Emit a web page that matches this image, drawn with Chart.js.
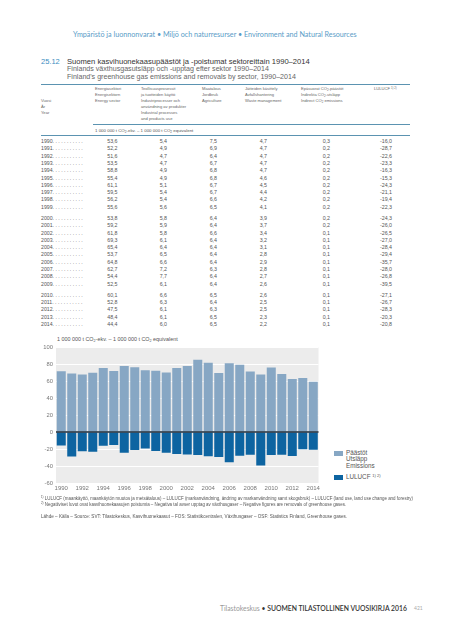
<!DOCTYPE html>
<html>
<head>
<meta charset="utf-8">
<script src="https://cdn.jsdelivr.net/npm/chart.js@4/dist/chart.umd.min.js"></script>
<style>
  html, body { margin: 0; padding: 0; background: #fff; }
  body { width: 450px; height: 640px; position: relative; overflow: hidden; font-family: "Liberation Sans", Arial, sans-serif; color: #444; }
  .t { position: absolute; white-space: nowrap; transform: translateY(-50%); line-height: 1; }
  .rule { position: absolute; height: 1px; background: #5b93b1; }
  sub { font-size: 70%; vertical-align: -0.25em; line-height: 0; }
  sup { font-size: 65%; vertical-align: 0.5em; line-height: 0; }
  #chartBox { position: absolute; left: 20px; top: 340px; width: 302px; height: 155px; }
  .lg { position: absolute; width: 9px; height: 5px; }
</style>
</head>
<body>
<div class="t" style="left:73px;top:35px;font-family:Lato,'Open Sans',sans-serif;font-size:7.2px;color:#5a9cc7;">Ympäristö ja luonnonvarat • Miljö och naturresurser • Environment and Natural Resources</div>

<div class="t" style="left:41px;top:62px;font-size:7.5px;color:#3b8dbf;">25.12</div>
<div class="t" style="left:67px;top:62px;font-size:7.6px;color:#333;">Suomen kasvihuonekaasupäästöt ja -poistumat sektoreittain 1990–2014</div>
<div class="t" style="left:67px;top:70px;font-size:7.1px;color:#666;">Finlands växthusgasutsläpp och -upptag efter sektor 1990–2014</div>
<div class="t" style="left:67px;top:78px;font-size:7.1px;color:#666;">Finland's greenhouse gas emissions and removals by sector, 1990–2014</div>

<div class="rule" style="left:41px;top:84px;width:369px;"></div>
<div class="rule" style="left:93px;top:124px;width:317px;"></div>
<div class="rule" style="left:41px;top:135px;width:369px;"></div>

<div id="table"></div>

<div class="t" style="left:57px;top:340px;font-size:5.4px;color:#555;">1 000 000 t CO<sub>2</sub>-ekv. – 1 000 000 t CO<sub>2</sub> equivalent</div>

<div id="chartBox"><canvas id="chartEmissions"></canvas></div>

<div class="lg" style="left:334px;top:451px;background:#87a7c4;"></div>
<div class="t" style="left:346px;top:453px;font-size:6.3px;color:#555;">Päästöt</div>
<div class="t" style="left:346px;top:459px;font-size:6.3px;color:#555;">Utsläpp</div>
<div class="t" style="left:346px;top:465.5px;font-size:6.3px;color:#555;">Emissions</div>
<div class="lg" style="left:334px;top:474.5px;background:#0d64a1;"></div>
<div class="t" style="left:346px;top:477px;font-size:6.3px;color:#555;">LULUCF <sup>1) 2)</sup></div>

<div class="t" style="left:41px;top:499px;font-size:4.45px;color:#555;"><sup>1)</sup> LULUCF (maankäyttö, maankäytön muutos ja metsätalous) – LULUCF (markanvändning, ändring av markanvändning samt skogsbruk) – LULUCF (land use, land use change and forestry)</div>
<div class="t" style="left:41px;top:505px;font-size:4.45px;color:#555;"><sup>2)</sup> Negatiiviset luvut ovat kasvihuonekaasujen poistumia – Negativa tal avser upptag av växthusgaser – Negative figures are removals of greenhouse gases.</div>
<div class="t" style="left:41px;top:517px;font-size:4.6px;color:#555;">Lähde – Källa – Source: SVT: Tilastokeskus, Kasvihuonekaasut – FOS: Statistikcentralen, Växthusgaser – OSF: Statistics Finland, Greenhouse gases.</div>

<div class="t" style="left:220px;top:608px;font-family:Lato,'Open Sans',sans-serif;font-size:6.8px;color:#999;">Tilastokeskus <span style="color:#333;">•</span> <span style="color:#333;font-weight:600;">SUOMEN TILASTOLLINEN VUOSIKIRJA 2016</span></div>
<div class="t" style="left:414px;top:608px;font-family:Lato,'Open Sans',sans-serif;font-size:5px;color:#aaa;">421</div>

<script>
const years = ['1990', '1991', '1992', '1993', '1994', '1995', '1996', '1997', '1998', '1999',
  '2000', '2001', '2002', '2003', '2004', '2005', '2006', '2007', '2008', '2009',
  '2010', '2011', '2012', '2013', '2014'];
const energy = [53.6, 52.2, 51.6, 53.5, 58.8, 55.4, 61.1, 59.5, 56.2, 55.6,
  53.8, 59.2, 61.8, 69.3, 65.4, 53.7, 64.8, 62.7, 54.4, 52.5,
  60.1, 52.8, 47.5, 48.4, 44.4];
const industry = [5.4, 4.9, 4.7, 4.7, 4.9, 4.9, 5.1, 5.4, 5.4, 5.6,
  5.8, 5.9, 5.8, 6.1, 6.4, 6.5, 6.6, 7.2, 7.7, 6.1,
  6.6, 6.3, 6.1, 6.1, 6.0];
const agriculture = [7.5, 6.9, 6.4, 6.7, 6.8, 6.8, 6.7, 6.7, 6.6, 6.5,
  6.4, 6.4, 6.6, 6.4, 6.4, 6.4, 6.4, 6.3, 6.4, 6.4,
  6.5, 6.4, 6.3, 6.5, 6.5];
const waste = [4.7, 4.7, 4.7, 4.7, 4.7, 4.6, 4.5, 4.4, 4.2, 4.1,
  3.9, 3.7, 3.4, 3.2, 3.1, 2.8, 2.9, 2.8, 2.7, 2.6,
  2.6, 2.5, 2.5, 2.3, 2.2];
const indirect = [0.3, 0.2, 0.2, 0.2, 0.2, 0.2, 0.2, 0.2, 0.2, 0.2,
  0.2, 0.2, 0.1, 0.1, 0.1, 0.1, 0.1, 0.1, 0.1, 0.1,
  0.1, 0.1, 0.1, 0.1, 0.1];
const lulucf = [-16.0, -28.7, -22.6, -23.3, -16.3, -15.3, -24.3, -21.1, -19.4, -22.3,
  -24.3, -26.0, -26.5, -27.0, -28.4, -29.4, -35.7, -28.0, -26.8, -39.5,
  -27.1, -26.7, -28.3, -20.3, -20.8];
// total emissions (sum of the sector columns above)
const emissions = [71.5, 68.9, 67.6, 69.8, 75.4, 71.9, 77.6, 76.2, 72.6, 72.0,
  70.1, 75.4, 77.7, 85.1, 81.4, 69.5, 80.8, 79.1, 71.3, 67.7,
  75.9, 68.1, 62.5, 63.4, 59.2];
const yTicks = [-60, -40, -20, 0, 20, 40, 60, 80, 100];

// ---- table ----
const table = document.getElementById('table');
function txt (html, x, y, size, color, right) {
  const d = document.createElement('div');
  d.className = 't';
  d.innerHTML = html;
  d.style.top = y + 'px';
  d.style.fontSize = size + 'px';
  d.style.color = color || '#555';
  if (right) d.style.right = (450 - x) + 'px';
  else d.style.left = x + 'px';
  table.appendChild(d);
}
const headers = [
  [95, ['Energiasektori', 'Energisektorn', 'Energy sector']],
  [141, ['Teollisuusprosessit', 'ja tuotteiden käyttö', 'Industriprocesser och', 'användning av produkter', 'Industrial processes', 'and products use']],
  [202, ['Maatalous', 'Jordbruk', 'Agriculture']],
  [245, ['Jätteiden käsittely', 'Avfallshantering', 'Waste management']],
  [301, ['Epäsuorat CO<sub>2</sub>-päästöt', 'Indirekta CO<sub>2</sub>-utsläpp', 'Indirect CO<sub>2</sub> emissions']],
  [374, ['LULUCF <sup>1) 2)</sup>']]
];
headers.forEach(function (h) {
  h[1].forEach(function (line, i) { txt(line, h[0], 88.7 + i * 6.1, 4.1, '#666'); });
});
['Vuosi', 'År', 'Year'].forEach(function (line, i) { txt(line, 41, 100.7 + i * 6, 4.1, '#666'); });
txt('1 000 000 t CO<sub>2</sub>-ekv. – 1 000 000 t CO<sub>2</sub> equivalent', 95, 131, 4.4, '#555');

const fmt = v => v.toFixed(1).replace('.', ',');
const cols = [[117.5, energy], [167, industry], [217, agriculture], [267, waste], [330, indirect], [392, lulucf]];
years.forEach(function (yr, i) {
  const y = 142 + i * 7.3 + Math.floor(i / 10) * 3.9;
  txt(yr + '. . . . . . . . . . .', 41, y, 5.2, '#555');
  cols.forEach(function (c) { txt(fmt(c[1][i]), c[0], y, 5.3, '#555', true); });
});

// ---- chart ----
const plotBg = {
  id: 'plotBg',
  beforeDraw (chart) {
    const a = chart.chartArea;
    const ctx = chart.ctx;
    ctx.save();
    ctx.fillStyle = '#ececec';
    ctx.fillRect(a.left, a.top, a.right - a.left, a.bottom - a.top);
    ctx.restore();
  },
  afterDatasetsDraw (chart) {
    const a = chart.chartArea;
    const y0 = chart.scales.y.getPixelForValue(0);
    const ctx = chart.ctx;
    ctx.save();
    ctx.strokeStyle = '#1b2a38';
    ctx.lineWidth = 1.6;
    ctx.beginPath();
    ctx.moveTo(a.left, y0);
    ctx.lineTo(a.right, y0);
    ctx.stroke();
    ctx.restore();
  }
};

new Chart(document.getElementById('chartEmissions').getContext('2d'), {
  type: 'bar',
  plugins: [plotBg],
  data: {
    labels: years,
    datasets: [
      { label: 'Päästöt', data: emissions, backgroundColor: '#87a7c4', barPercentage: 0.86, categoryPercentage: 1 },
      { label: 'LULUCF', data: lulucf, backgroundColor: '#0d64a1', barPercentage: 0.86, categoryPercentage: 1 }
    ]
  },
  options: {
    responsive: true,
    maintainAspectRatio: false,
    animation: false,
    layout: { padding: { top: 7, right: 3, left: 0, bottom: 0 } },
    plugins: { legend: { display: false }, tooltip: { enabled: false } },
    scales: {
      x: {
        stacked: true,
        grid: { display: false, drawTicks: false },
        border: { display: false },
        ticks: {
          autoSkip: false,
          maxRotation: 0,
          padding: 2,
          color: '#777',
          font: { family: 'Liberation Sans', size: 6 },
          callback: function (v, i) { return i % 2 === 0 ? years[i] : ''; }
        },
        afterFit: function (s) { s.height = 12; }
      },
      y: {
        stacked: true,
        min: yTicks[0],
        max: yTicks[yTicks.length - 1],
        afterBuildTicks: function (s) { s.ticks = yTicks.map(v => ({ value: v })); },
        grid: { color: '#ffffff', lineWidth: 1, drawTicks: false },
        border: { display: false },
        ticks: {
          padding: 3,
          color: '#777',
          font: { family: 'Liberation Sans', size: 5.8 }
        },
        afterFit: function (s) { s.width = 36; }
      }
    }
  }
});
</script>
</body>
</html>
